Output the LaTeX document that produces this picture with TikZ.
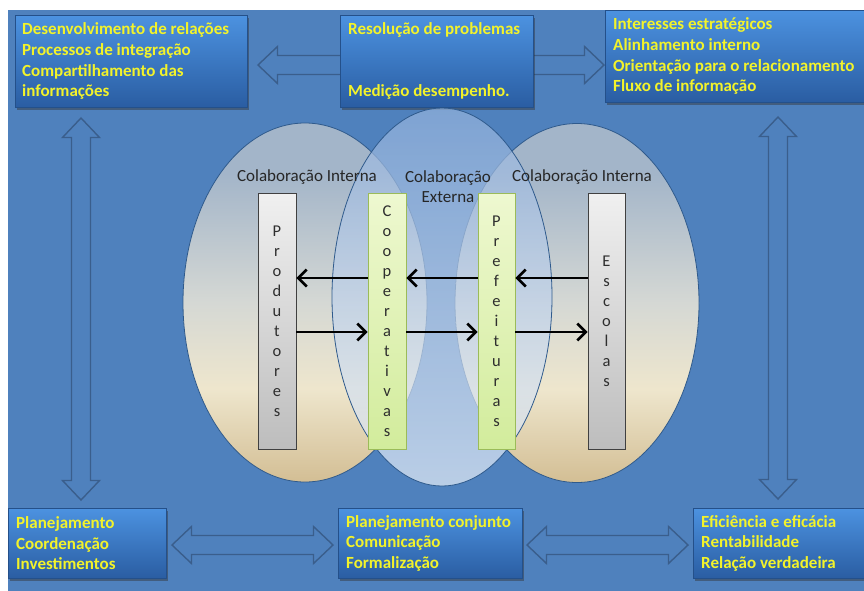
\documentclass[tikz,border=0pt]{standalone}
\usepackage{fontspec}
\setmainfont{Carlito}
\usetikzlibrary{calc,shadows,arrows.meta,shapes.geometric}

\definecolor{panel}{HTML}{4F81BD}
\definecolor{arrowline}{HTML}{3A5E8C}
\definecolor{boxtop}{HTML}{4C92E0}
\definecolor{boxbot}{HTML}{2A5DA2}
\definecolor{boxline}{HTML}{24508A}
\definecolor{txtyellow}{HTML}{F3F32A}
\definecolor{graybl}{HTML}{A3B5C9}
\definecolor{midgray}{HTML}{D5D8D4}
\definecolor{beige}{HTML}{EEE6CD}
\definecolor{tanb}{HTML}{D3BE94}
\definecolor{ctop}{HTML}{93B2DC}
\definecolor{cbot}{HTML}{E8EFF8}
\definecolor{ellline}{HTML}{2F5A8C}
\definecolor{bargraytop}{HTML}{F0F0F0}
\definecolor{bargraybot}{HTML}{BDBDBD}
\definecolor{bargreentop}{HTML}{EEF8D0}
\definecolor{bargreenbot}{HTML}{D2EC9C}
\definecolor{greenline}{HTML}{9BBB59}
\definecolor{letter}{HTML}{2E2E2E}

\pgfdeclareverticalshading{sideshade}{100bp}{color(0bp)=(tanb); color(25bp)=(tanb); color(38bp)=(beige); color(50bp)=(midgray); color(68bp)=(graybl); color(100bp)=(graybl)}
\pgfdeclareverticalshading{centershade}{100bp}{color(0bp)=(cbot); color(25bp)=(cbot); color(75bp)=(ctop); color(100bp)=(ctop)}
\pgfdeclareverticalshading{boxshade}{100bp}{color(0bp)=(boxbot); color(25bp)=(boxbot); color(75bp)=(boxtop); color(100bp)=(boxtop)}

\tikzset{
  infobox/.style={draw=boxline, line width=0.6pt, shade, shading=boxshade,
    drop shadow={shadow xshift=2pt, shadow yshift=-3pt, opacity=0.45, fill=black!80},
    anchor=north west, inner sep=0pt},
  boxtext/.style={anchor=west, align=left, inner sep=0pt, text=txtyellow,
    font=\fontsize{17}{20.7}\selectfont\bfseries},
  sideell/.style={ellipse, inner sep=0pt, shade, shading=sideshade, draw=ellline, line width=0.8pt},
  centerell/.style={ellipse, inner sep=0pt, shade, shading=centershade, fill opacity=0.7,
    draw=ellline, draw opacity=1, line width=0.8pt},
  elllabel/.style={align=center, inner sep=0pt, text=black!85, font=\fontsize{17}{20}\selectfont},
  graybar/.style={draw=black!75, line width=0.8pt, top color=bargraytop, bottom color=bargraybot,
    minimum height=256pt, inner sep=0pt, align=center, text=letter, font=\fontsize{16.5}{20}\selectfont},
  greenbar/.style={draw=greenline, line width=0.8pt, top color=bargreentop, bottom color=bargreenbot,
    minimum height=256pt, inner sep=0pt, align=center, text=letter, font=\fontsize{16.5}{20}\selectfont},
  flow/.style={line width=2.6pt, -{Straight Barb[length=8.5pt,width=17pt]}},
  blockarrow/.style={draw=arrowline, line width=1.4pt, line join=miter,
    to path={let \p1=(\tikztostart), \p2=(\tikztotarget),
      \n1={atan2(\y2-\y1,\x2-\x1)}, \n2={veclen(\x2-\x1,\y2-\y1)} in
      ([shift={(\p1)},rotate=\n1]0pt,0pt)
      -- ([shift={(\p1)},rotate=\n1]19.5pt,18.5pt)
      -- ([shift={(\p1)},rotate=\n1]19.5pt,9.5pt)
      -- ([shift={(\p1)},rotate=\n1]{\n2*1pt-19.5pt},9.5pt)
      -- ([shift={(\p1)},rotate=\n1]{\n2*1pt-19.5pt},18.5pt)
      -- ([shift={(\p1)},rotate=\n1]{\n2*1pt},0pt)
      -- ([shift={(\p1)},rotate=\n1]{\n2*1pt-19.5pt},-18.5pt)
      -- ([shift={(\p1)},rotate=\n1]{\n2*1pt-19.5pt},-9.5pt)
      -- ([shift={(\p1)},rotate=\n1]19.5pt,-9.5pt)
      -- ([shift={(\p1)},rotate=\n1]19.5pt,-18.5pt)
      -- cycle}}
}

\begin{document}
\begin{tikzpicture}[x=1pt,y=-1pt]
\useasboundingbox (0,0) rectangle (864,590);
\clip (0,0) rectangle (864,590);
\fill[white] (0,0) rectangle (864,590);
\fill[panel] (8,10) rectangle (870,595);

% block arrows (behind the boxes)
\coordinate (ta1) at (258,65);
\coordinate (ta2) at (380,65);
\coordinate (tb1) at (500,65);
\coordinate (tb2) at (604,65);
\coordinate (ba1) at (172,545);
\coordinate (ba2) at (333,545);
\coordinate (bb1) at (527,545);
\coordinate (bb2) at (688,545);
\coordinate (la1) at (81,118);
\coordinate (la2) at (81,500);
\coordinate (ra1) at (778,117);
\coordinate (ra2) at (778,499);
\draw[blockarrow] (ta1) to (ta2);
\draw[blockarrow] (tb1) to (tb2);
\draw[blockarrow] (ba1) to (ba2);
\draw[blockarrow] (bb1) to (bb2);
\draw[blockarrow] (la1) to (la2);
\draw[blockarrow] (ra1) to (ra2);

% boxes
\node[infobox, minimum width=232pt, minimum height=92pt] (tl) at (15,15) {};
\node[infobox, minimum width=193pt, minimum height=92pt] (tm) at (340,15) {};
\node[infobox, minimum width=265pt, minimum height=92pt] (tr) at (605,10) {};
\node[infobox, minimum width=158pt, minimum height=70pt] (bl) at (8,508) {};
\node[infobox, minimum width=184pt, minimum height=70pt] (bm) at (338,508) {};
\node[infobox, minimum width=177pt, minimum height=70pt] (br) at (693,508) {};

\node[boxtext] (tlt) at ($(tl.west)+(7,0)$) {Desenvolvimento de relações\\Processos de integração\\Compartilhamento das\\informações};
\node[boxtext] (tmt) at ($(tm.west)+(8,0)$) {Resolução de problemas\\[41.4pt]Medição desempenho.};
\node[boxtext] (trt) at ($(tr.west)+(8,0)$) {Interesses estratégicos\\Alinhamento interno\\Orientação para o relacionamento\\Fluxo de informação};
\node[boxtext] (blt) at ($(bl.west)+(8,0)$) {Planejamento\\Coordenação\\Investimentos};
\node[boxtext] (bmt) at ($(bm.west)+(8,0)$) {Planejamento conjunto\\Comunicação\\Formalização};
\node[boxtext] (brt) at ($(br.west)+(8,0)$) {Eficiência e eficácia\\Rentabilidade\\Relação verdadeira};

% ellipses
\node[sideell, minimum width=244pt, minimum height=359pt] (le) at (305,302.5) {};
\node[sideell, minimum width=244pt, minimum height=359pt] (re) at (577,303) {};
\node[centerell, minimum width=220pt, minimum height=378pt] (ce) at (442,297) {};

\node[elllabel] (lel) at (307,177) {Colaboração Interna};
\node[elllabel] (rel) at (582,177) {Colaboração Interna};
\node[elllabel] (cel) at (448,187) {Colaboração\\Externa};

% bars
\node[graybar, minimum width=38pt] (prod) at (277,321) {P\\r\\o\\d\\u\\t\\o\\r\\e\\s};
\node[greenbar, minimum width=38pt] (coop) at (387,321) {C\\o\\o\\p\\e\\r\\a\\t\\i\\v\\a\\s};
\node[greenbar, minimum width=37pt] (pref) at (496.5,321) {P\\r\\e\\f\\e\\i\\t\\u\\r\\a\\s};
\node[graybar, minimum width=37pt] (esc) at (606.5,321) {E\\s\\c\\o\\l\\a\\s};

% flow arrows
\coordinate (up) at (0,278);
\coordinate (dn) at (0,332);
\draw[flow] (coop.west |- up) -- (prod.east |- up);
\draw[flow] (pref.west |- up) -- (coop.east |- up);
\draw[flow] (esc.west |- up) -- (pref.east |- up);
\draw[flow] (prod.east |- dn) -- (coop.west |- dn);
\draw[flow] (coop.east |- dn) -- (pref.west |- dn);
\draw[flow] (pref.east |- dn) -- (esc.west |- dn);
\end{tikzpicture}
\end{document}
